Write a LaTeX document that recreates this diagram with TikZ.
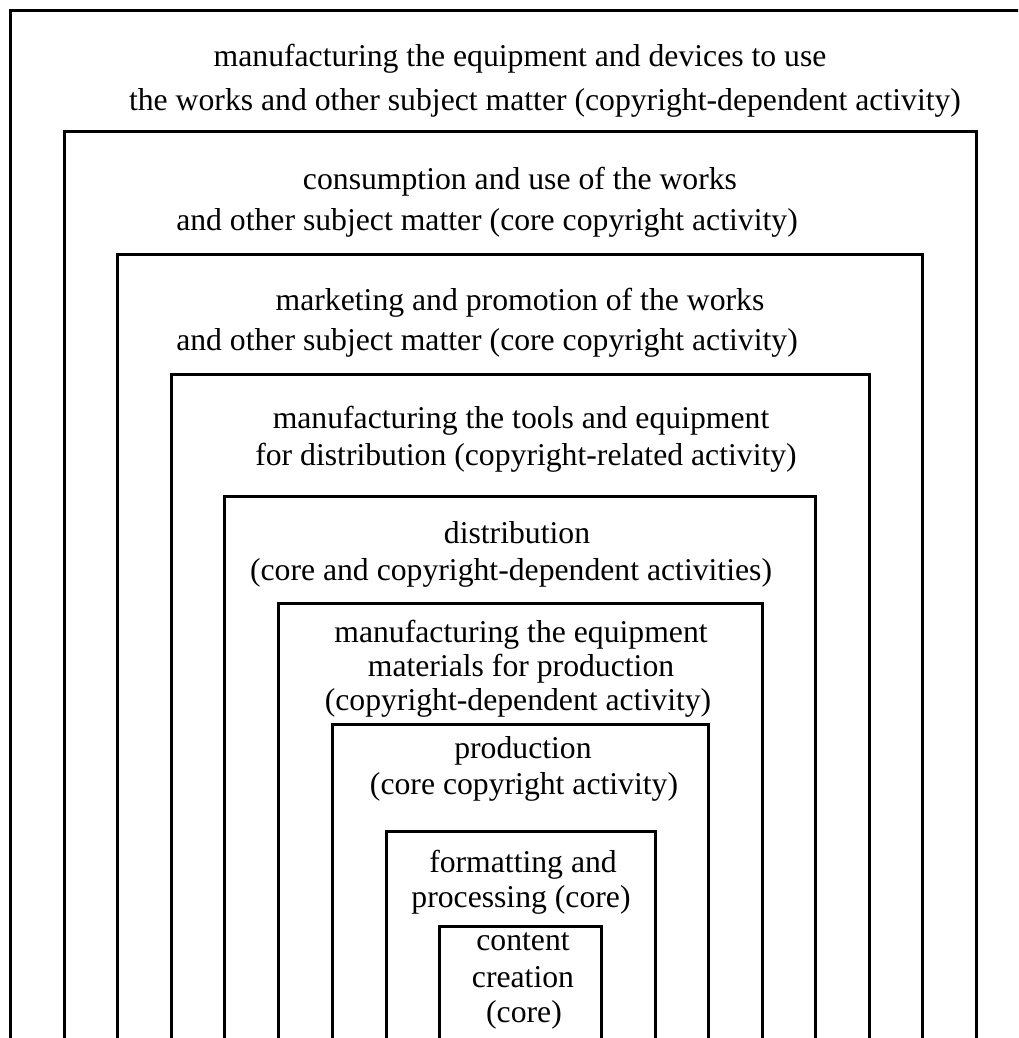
\documentclass[tikz,border=0pt]{standalone}
\usepackage{fontspec}
\setmainfont{Liberation Serif}
\begin{document}
\begin{tikzpicture}[x=1pt,y=-1pt,
  frame/.style={line width=3pt, line join=miter},
  lbl/.style={anchor=base, inner sep=0pt, font=\fontsize{31.7}{38}\selectfont}]
\useasboundingbox (0,0) rectangle (1018,1038);
\clip (0,0) rectangle (1018,1038);
\fill[white] (0,0) rectangle (1018,1038);
% nested frames, open at the bottom
\draw[frame] (10,1045) -- (10,11) -- (1040,11);
\draw[frame] (64,1045) -- (64,132) -- (976,132) -- (976,1045);
\draw[frame] (117,1045) -- (117,254) -- (922,254) -- (922,1045);
\draw[frame] (171,1045) -- (171,374) -- (869,374) -- (869,1045);
\draw[frame] (224,1045) -- (224,496) -- (815,496) -- (815,1045);
\draw[frame] (278,1045) -- (278,603) -- (762,603) -- (762,1045);
\draw[frame] (332,1045) -- (332,724) -- (708,724) -- (708,1045);
\draw[frame] (386,1045) -- (386,831) -- (655,831) -- (655,1045);
\draw[frame] (439,1045) -- (439,926) -- (601,926) -- (601,1045);
% labels
\node[lbl] (t1a) at (520,67) {manufacturing the equipment and devices to use};
\node[lbl] (t1b) at (545,111) {the works and other subject matter (copyright-dependent activity)};
\node[lbl] (t2a) at (520,189) {consumption and use of the works};
\node[lbl] (t2b) at (487,230) {and other subject matter (core copyright activity)};
\node[lbl] (t3a) at (520,310) {marketing and promotion of the works};
\node[lbl] (t3b) at (487,350) {and other subject matter (core copyright activity)};
\node[lbl] (t4a) at (521,428) {manufacturing the tools and equipment};
\node[lbl] (t4b) at (526,465) {for distribution (copyright-related activity)};
\node[lbl] (t5a) at (517,543) {distribution};
\node[lbl] (t5b) at (511,580) {(core and copyright-dependent activities)};
\node[lbl] (t6a) at (521,642) {manufacturing the equipment};
\node[lbl] (t6b) at (521,676) {materials for production};
\node[lbl] (t6c) at (518,710) {(copyright-dependent activity)};
\node[lbl] (t7a) at (523,758) {production};
\node[lbl] (t7b) at (524,794) {(core copyright activity)};
\node[lbl] (t8a) at (523,872) {formatting and};
\node[lbl] (t8b) at (521,907) {processing (core)};
\node[lbl] (t9a) at (523,950) {content};
\node[lbl] (t9b) at (523,987) {creation};
\node[lbl] (t9c) at (524,1022) {(core)};
\end{tikzpicture}
\end{document}
